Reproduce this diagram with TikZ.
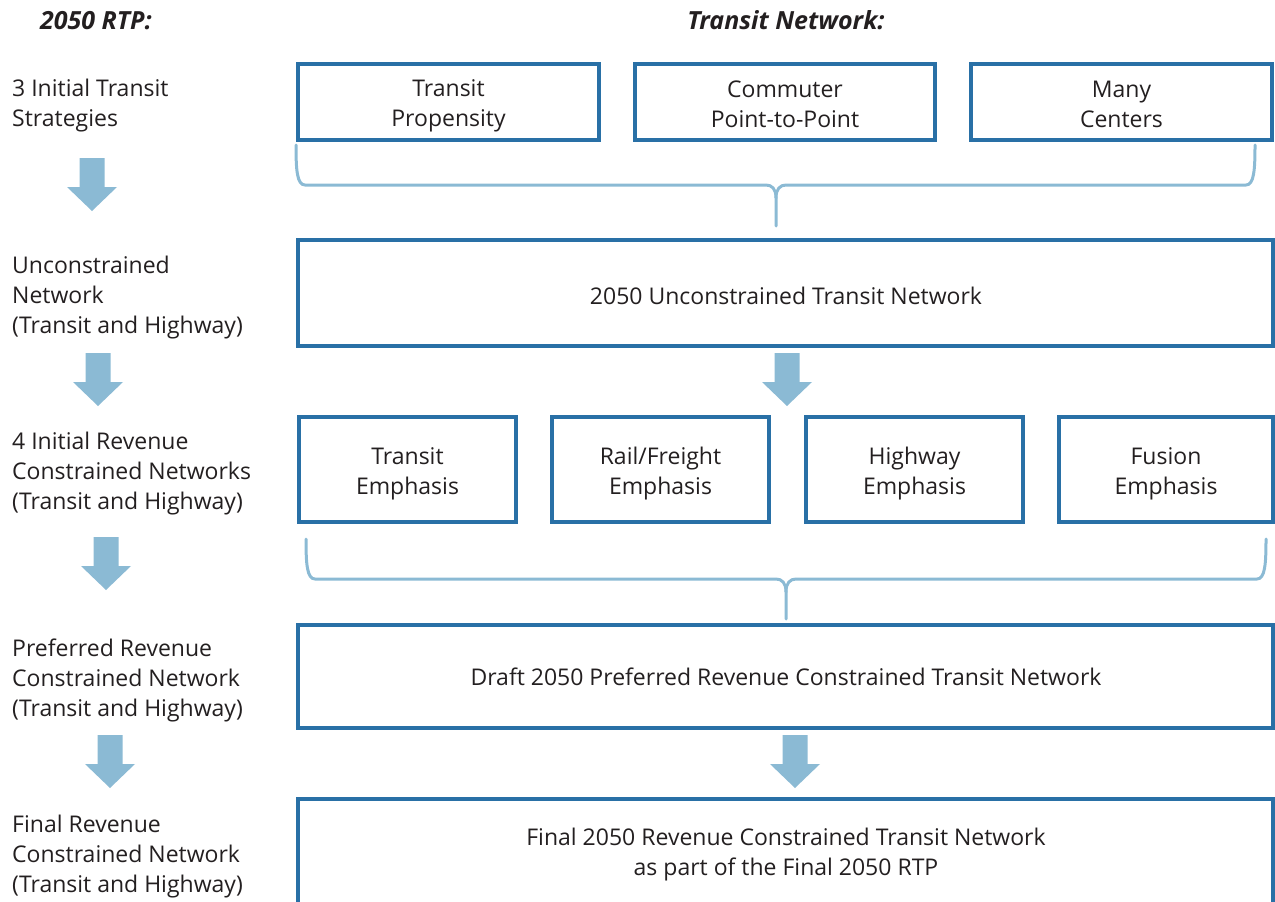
\documentclass[tikz,border=0pt]{standalone}
\usepackage{fontspec}
\setmainfont{Open Sans}
\definecolor{boxblue}{RGB}{41,112,166}
\definecolor{lightblue}{RGB}{139,186,212}
\definecolor{txt}{RGB}{35,31,32}
\tikzset{
  every node/.style={text=txt, font=\fontsize{23}{30}\selectfont, inner sep=0pt},
  bluebox/.style={draw=boxblue, line width=4pt},
  boxtext/.style={align=center},
  sidelabel/.style={align=left, anchor=west},
  header/.style={font=\fontsize{25}{30}\bfseries\itshape\selectfont, anchor=base},
  bracket/.style={draw=lightblue, line width=3pt, line cap=round},
  dnarrow/.pic={\fill[lightblue] (-12.5,0) -- (12.5,0) -- (12.5,29) -- (25,29) -- (0,53) -- (-25,29) -- (-12.5,29) -- cycle;}
}
\begin{document}
\begin{tikzpicture}[x=1pt,y=-1pt]
\useasboundingbox (0,0) rectangle (1275,902);
\clip (0,0) rectangle (1275,902);
% headers
\node[header] (h1) at (96,29) {2050 RTP:};
\node[header] (h2) at (786,29) {Transit Network:};
% side labels
\node[sidelabel] (l1) at (12,106) {3 Initial Transit\\Strategies};
\node[sidelabel] (l2) at (12,298) {Unconstrained\\Network\\(Transit and Highway)};
\node[sidelabel] (l3) at (12,474) {4 Initial Revenue\\Constrained Networks\\(Transit and Highway)};
\node[sidelabel] (l4) at (12,680) {Preferred Revenue\\Constrained Network\\(Transit and Highway)};
\node[sidelabel] (l5) at (12,857) {Final Revenue\\Constrained Network\\(Transit and Highway)};
% top row boxes
\draw[bluebox] (298,64) rectangle (599,140);
\draw[bluebox] (635,64) rectangle (935,140);
\draw[bluebox] (971,64) rectangle (1272,140);
\node[boxtext] (t1) at (448.5,106) {Transit\\Propensity};
\node[boxtext] (t2) at (785,104) {Commuter\\Point-to-Point};
\node[boxtext] (t3) at (1121.5,104) {Many\\Centers};
% brace 1
\draw[bracket] (296,145) .. controls (296,170) and (297,185) .. (305,185) -- (766,185) .. controls (772,185) and (776,189) .. (776,198) -- (776,226);
\draw[bracket] (776,198) .. controls (776,189) and (780,185) .. (786,185) -- (1246,185) .. controls (1254,185) and (1255,170) .. (1255,145);
% unconstrained
\draw[bluebox] (298,240) rectangle (1273,346);
\node[boxtext] (u) at (786,296) {2050 Unconstrained Transit Network};
% row 3
\draw[bluebox] (299,417) rectangle (516,522);
\draw[bluebox] (552,417) rectangle (769,522);
\draw[bluebox] (806,417) rectangle (1023,522);
\draw[bluebox] (1059,417) rectangle (1273,522);
\node[boxtext] (e1) at (407.5,474) {Transit\\Emphasis};
\node[boxtext] (e2) at (660.5,474) {Rail/Freight\\Emphasis};
\node[boxtext] (e3) at (914.5,474) {Highway\\Emphasis};
\node[boxtext] (e4) at (1166,474) {Fusion\\Emphasis};
% brace 2
\draw[bracket] (306,539) .. controls (306,564) and (307,579) .. (315,579) -- (776,579) .. controls (782,579) and (786,583) .. (786,592) -- (786,619);
\draw[bracket] (786,592) .. controls (786,583) and (790,579) .. (796,579) -- (1257,579) .. controls (1265,579) and (1266,564) .. (1266,539);
% draft
\draw[bluebox] (298,625) rectangle (1273,728);
\node[boxtext] (d) at (786,677) {Draft 2050 Preferred Revenue Constrained Transit Network};
% final
\draw[bluebox] (298,799) rectangle (1273,920);
\node[boxtext] (f) at (786,855) {Final 2050 Revenue Constrained Transit Network\\as part of the Final 2050 RTP};
% arrows
\pic at (92,158) {dnarrow};
\pic at (98,353) {dnarrow};
\pic at (106,537) {dnarrow};
\pic at (110,735) {dnarrow};
\pic at (787,353) {dnarrow};
\pic at (795,735) {dnarrow};
\end{tikzpicture}
\end{document}
